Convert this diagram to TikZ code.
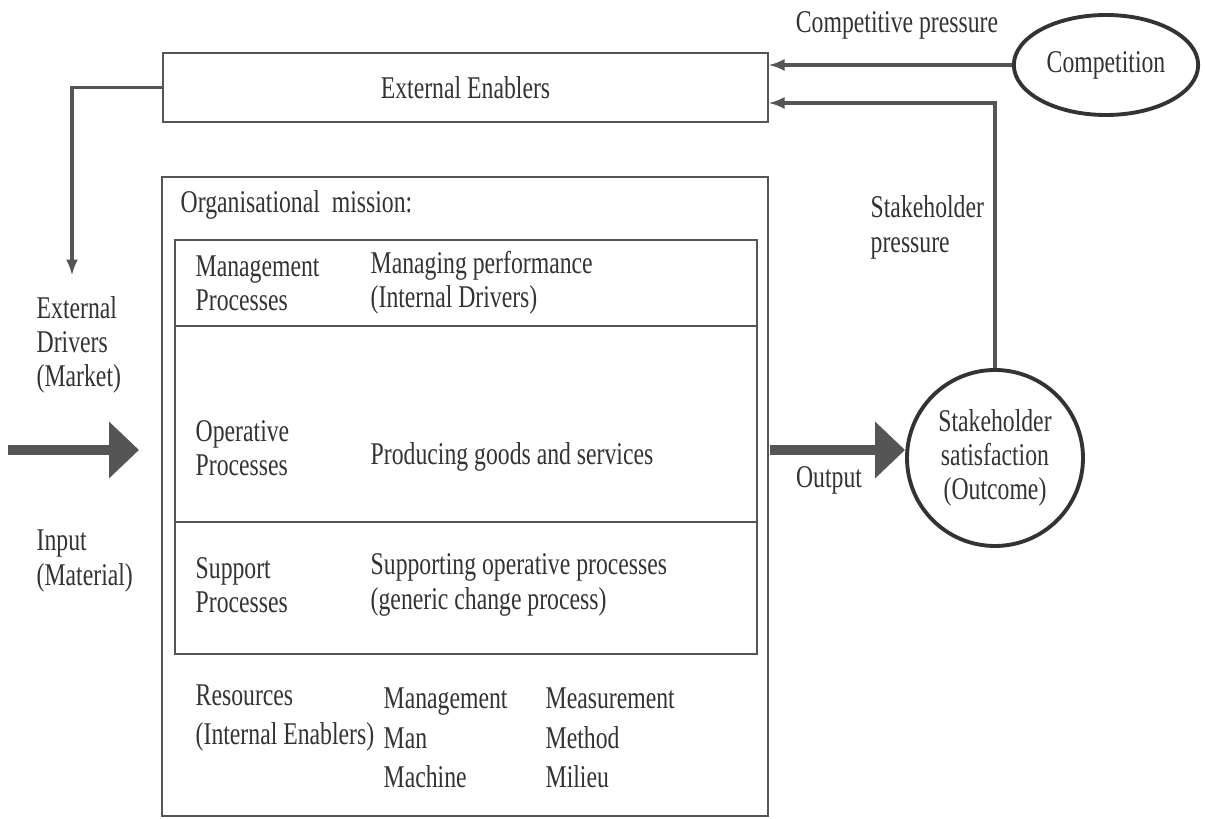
\documentclass[tikz,border=0pt]{standalone}
\usepackage{fontspec}
\setmainfont[FakeStretch=0.75]{Liberation Serif}
\usepackage{xcolor}
\usepackage{tikz}
\usetikzlibrary{arrows.meta,shapes.geometric}

\definecolor{ink}{HTML}{333333}
\definecolor{frame}{HTML}{555555}

\begin{document}
\begin{tikzpicture}[thick,
	every node/.style={text=ink, font=\fontsize{18}{19.5}\selectfont},
	box/.style={draw=frame, line width=1.2pt, rectangle, inner sep=0pt},
	txt/.style={anchor=west, align=left, inner sep=0pt},
	wide/.style={font=\fontsize{18}{22.4}\selectfont},
	flow/.style={draw=frame, line width=5.5pt, -{Triangle[length=6mm,width=11mm]}},
	push/.style={draw=frame, line width=2pt, -latex}]

			\useasboundingbox (0,0) rectangle (24.1,-16.38);

			% boxes
			\node [box, minimum width=12.1cm, minimum height=1.38cm] (ee) at (9.31,-1.75) {External Enablers};
			\node [box, minimum width=12.12cm, minimum height=12.78cm] (mission) at (9.3,-9.93) {};
			\node [box, minimum width=11.64cm, minimum height=1.72cm] (mgmt) at (9.32,-5.66) {};
			\node [box, minimum width=11.64cm, minimum height=3.92cm] (oper) at (9.32,-8.48) {};
			\node [box, minimum width=11.64cm, minimum height=2.64cm] (supp) at (9.32,-11.76) {};

			\node [draw=ink, line width=2.2pt, ellipse, minimum width=3.66cm, minimum height=2cm] (comp) at (22.12,-1.3) {Competition};
			\node [draw=ink, line width=2.2pt, circle, minimum size=3.52cm, align=center] (sat) at (19.9,-9.16) {Stakeholder\\satisfaction\\(Outcome)};

			% text in the mission box
			\node [txt] (mis) at (3.6,-4.1) {Organisational\ \ mission:};
			\node [txt] (mp) at (3.9,-5.66) {Management\\Processes};
			\node [txt] (mpd) at (7.4,-5.66) {Managing performance\\(Internal Drivers)};
			\node [txt] (op) at (3.9,-8.96) {Operative\\Processes};
			\node [txt] (opd) at (7.4,-9.14) {Producing goods and services};
			\node [txt] (sp) at (3.9,-11.7) {Support\\Processes};
			\node [txt] (spd) at (7.4,-11.7) {Supporting operative processes\\(generic change process)};
			\node [txt, wide] (res) at (3.9,-14.36) {Resources\\(Internal Enablers)};
			\node [txt, wide] (res1) at (7.66,-14.76) {Management\\Man\\Machine};
			\node [txt, wide] (res2) at (10.9,-14.76) {Measurement\\Method\\Milieu};

			% outside labels
			\node (cplbl) at (17.94,-0.5) {Competitive pressure};
			\node [txt] (splbl) at (17.4,-4.55) {Stakeholder\\pressure};
			\node [txt] (drivers) at (0.72,-6.9) {External\\Drivers\\(Market)};
			\node [txt] (input) at (0.72,-11.22) {Input\\(Material)};
			\node (output) at (16.58,-9.6) {Output};

			\coordinate (drv) at (1.44,-5.5);
			\coordinate (inl) at (0.16,-9.0);
			\coordinate (inr) at (2.78,-9.0);
			\coordinate (outl) at (15.4,-9.0);

			% connectors
			\draw [push] (ee.west) -| (drv);
			\draw [push] (comp.west) -- (comp.west -| ee.east);
			\draw [push] (sat.north) |- ([yshift=-0.31cm]ee.east);
			\draw [flow] (inl) -- (inr);
			\draw [flow] (outl) -- (outl -| sat.west);
		\end{tikzpicture}
\end{document}
